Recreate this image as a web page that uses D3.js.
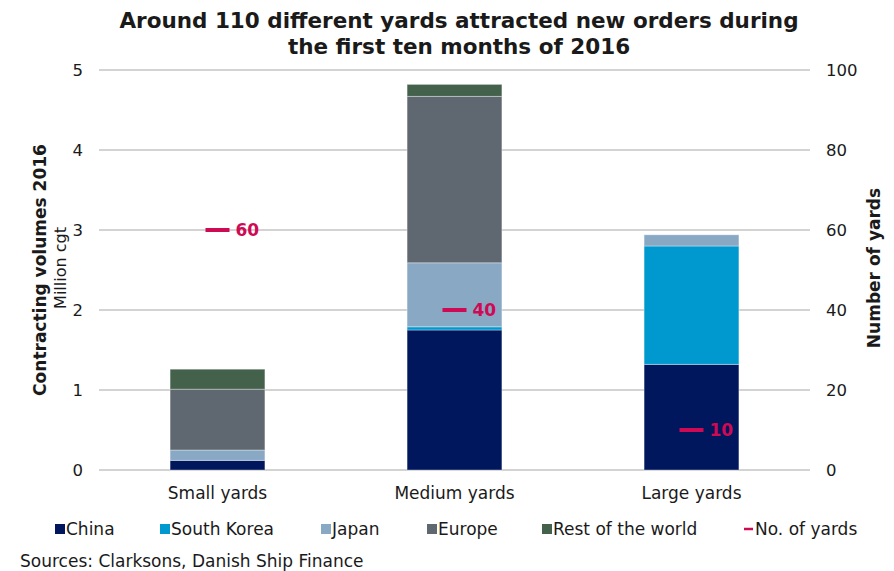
<!DOCTYPE html>
<html>
<head>
<meta charset="utf-8">
<script src="https://cdn.jsdelivr.net/npm/d3@7/dist/d3.min.js"></script>
<style>
  html, body { margin: 0; padding: 0; background: #fff; }
  svg text { font-family: Verdana, "DejaVu Sans", sans-serif; fill: #1a1a1a; }
</style>
</head>
<body>
<svg id="chart" width="894" height="571"></svg>
<script>
// Shipyard groups and contracting volumes (million cgt) by builder region
const categories = ["Small yards", "Medium yards", "Large yards"];
const seriesNames = ["China", "South Korea", "Japan", "Europe", "Rest of the world"];
const china       = [0.12, 1.75, 1.32];
const southKorea  = [0.00, 0.04, 1.48];
const japan       = [0.13, 0.80, 0.14];
const europe      = [0.76, 2.08, 0.00];
const restOfWorld = [0.25, 0.15, 0.00];
const yardCounts  = [60, 40, 10];
const leftTicks   = [0, 1, 2, 3, 4, 5];
const rightTicks  = [0, 20, 40, 60, 80, 100];

const colors = ["#00175e", "#0099cf", "#88a8c4", "#5f6870", "#44624b"];
const markerColor = "#cf0a55";

const svg = d3.select("#chart");
const plot = { left: 99, right: 810, top: 70, bottom: 470 };

const x = d3.scaleBand().domain(categories)
  .range([plot.left, plot.right]).paddingInner(0.6).paddingOuter(0.3);
const y = d3.scaleLinear().domain([0, 5]).range([plot.bottom, plot.top]);
const y2 = d3.scaleLinear().domain([0, 100]).range([plot.bottom, plot.top]);

// Title
svg.append("text").attr("x", 459).attr("y", 28).attr("text-anchor", "middle")
  .style("font-weight", "bold").style("font-size", "21.5px")
  .selectAll("tspan").data(["Around 110 different yards attracted new orders during", "the first ten months of 2016"])
  .join("tspan").attr("x", 459).attr("dy", (d, i) => i ? 26 : 0).text(d => d);

// Gridlines
svg.append("g").selectAll("line").data(leftTicks).join("line")
  .attr("x1", plot.left).attr("x2", plot.right)
  .attr("y1", d => y(d)).attr("y2", d => y(d))
  .attr("stroke", "#c4c4c4").attr("stroke-width", 1.5);

// Left axis labels
const leftAxis = svg.append("g").attr("transform", `translate(${plot.left - 16},0)`)
  .call(d3.axisLeft(y).tickValues(leftTicks).tickFormat(d3.format("d")).tickSize(0).tickPadding(0));
leftAxis.select(".domain").remove();
leftAxis.selectAll("text").style("font-size", "16.5px").attr("fill", "#1a1a1a");

// Right axis labels
const rightAxis = svg.append("g").attr("transform", `translate(${plot.right + 16},0)`)
  .call(d3.axisRight(y2).tickValues(rightTicks).tickFormat(d3.format("d")).tickSize(0).tickPadding(0));
rightAxis.select(".domain").remove();
rightAxis.selectAll("text").style("font-size", "16.5px").attr("fill", "#1a1a1a");

// Category labels
svg.append("g").selectAll("text").data(categories).join("text")
  .attr("x", d => x(d) + x.bandwidth() / 2).attr("y", 499)
  .attr("text-anchor", "middle").style("font-size", "17px").text(d => d);

// Stacked bars
const rows = categories.map((c, i) => ({
  category: c,
  "China": china[i], "South Korea": southKorea[i], "Japan": japan[i],
  "Europe": europe[i], "Rest of the world": restOfWorld[i]
}));
const stacked = d3.stack().keys(seriesNames)(rows);
svg.append("g").selectAll("g").data(stacked).join("g")
  .attr("fill", (d, i) => colors[i])
  .selectAll("rect").data(d => d.filter(p => p[1] - p[0] > 0)).join("rect")
  .attr("x", d => x(d.data.category))
  .attr("width", x.bandwidth())
  .attr("y", d => y(d[1]))
  .attr("height", d => y(d[0]) - y(d[1]))
  .attr("stroke", "rgba(255,255,255,0.35)").attr("stroke-width", 1);

// Number of yards markers
const markers = svg.append("g");
markers.selectAll("line").data(yardCounts).join("line")
  .attr("x1", (d, i) => x(categories[i]) + x.bandwidth() / 2 - 12)
  .attr("x2", (d, i) => x(categories[i]) + x.bandwidth() / 2 + 12)
  .attr("y1", d => y2(d)).attr("y2", d => y2(d))
  .attr("stroke", markerColor).attr("stroke-width", 4);
markers.selectAll("text").data(yardCounts).join("text")
  .attr("x", (d, i) => x(categories[i]) + x.bandwidth() / 2 + 18)
  .attr("y", d => y2(d) + 6)
  .style("font-size", "17px").style("font-weight", "bold")
  .style("fill", markerColor).text(d => d);

// Axis titles
svg.append("text").attr("transform", "translate(46,270) rotate(-90)")
  .attr("text-anchor", "middle").style("font-weight", "bold").style("font-size", "17px")
  .text("Contracting volumes 2016");
svg.append("text").attr("transform", "translate(66,268) rotate(-90)")
  .attr("text-anchor", "middle").style("font-size", "16px")
  .text("Million cgt");
svg.append("text").attr("transform", "translate(880,268) rotate(-90)")
  .attr("text-anchor", "middle").style("font-weight", "bold").style("font-size", "17px")
  .text("Number of yards");

// Legend
const legendItems = seriesNames.map((n, i) => ({ name: n, color: colors[i], kind: "box" }))
  .concat([{ name: "No. of yards", color: markerColor, kind: "line" }]);
const legendX = [55, 160, 321, 427, 542, 744];
const legend = svg.append("g");
legendItems.forEach((item, i) => {
  const g = legend.append("g").attr("transform", `translate(${legendX[i]},529)`);
  if (item.kind === "box") {
    g.append("rect").attr("x", 0).attr("y", -5).attr("width", 10).attr("height", 10).attr("fill", item.color);
  } else {
    g.append("line").attr("x1", 0).attr("x2", 9).attr("y1", 0).attr("y2", 0)
      .attr("stroke", item.color).attr("stroke-width", 2.5);
  }
  g.append("text").attr("x", 11).attr("y", 6).style("font-size", "17px").text(item.name);
});

// Source note
svg.append("text").attr("x", 20).attr("y", 567).style("font-size", "17px")
  .text("Sources: Clarksons, Danish Ship Finance");
</script>
</body>
</html>
